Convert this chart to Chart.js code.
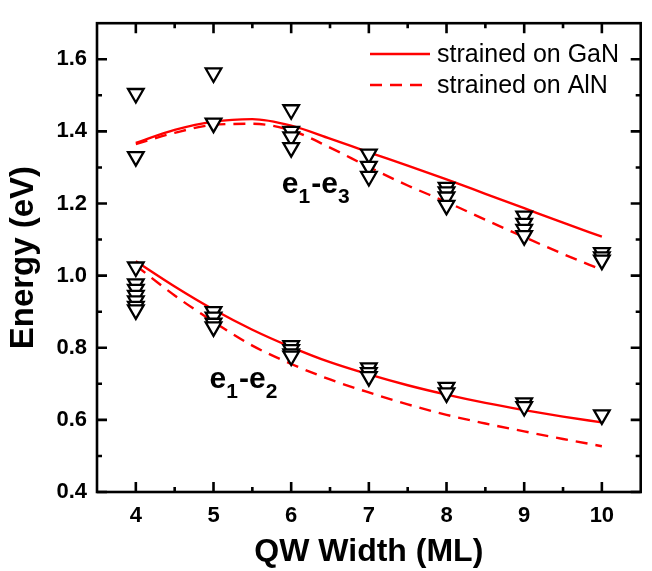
<!DOCTYPE html>
<html>
<head>
<meta charset="utf-8">
<script src="https://cdn.jsdelivr.net/npm/chart.js@4.4.0/dist/chart.umd.min.js"></script>
<style>
  html, body { margin: 0; padding: 0; background: #fff; }
</style>
</head>
<body>
<canvas id="chartEnergia" width="652" height="571"></canvas>
<script>
// Curvas calculadas (e1-e3 y e1-e2)
const anchosCurva = [4, 4.5, 5, 5.5, 6, 6.5, 7, 7.5, 8, 8.5, 9, 9.5, 10];
const e13GaN = [1.368, 1.404, 1.427, 1.434, 1.416, 1.380, 1.342, 1.305, 1.267, 1.227, 1.187, 1.147, 1.108];
const e13AlN = [1.365, 1.396, 1.418, 1.421, 1.403, 1.355, 1.301, 1.250, 1.204, 1.155, 1.107, 1.060, 1.016];
const e12GaN = [1.040, 0.970, 0.906, 0.850, 0.802, 0.760, 0.726, 0.696, 0.670, 0.647, 0.627, 0.609, 0.593];
const e12AlN = [1.028, 0.945, 0.872, 0.806, 0.755, 0.712, 0.676, 0.643, 0.614, 0.590, 0.568, 0.547, 0.527];

// Puntos medidos
const anchosE13 = [4, 4, 5, 5, 6, 6, 6, 6, 7, 7, 7, 8, 8, 8, 8, 9, 9, 9, 9, 10, 10, 10];
const energiasE13 = [1.505, 1.330, 1.562, 1.423, 1.460, 1.400, 1.385, 1.355, 1.337, 1.303, 1.275,
                     1.245, 1.232, 1.218, 1.195, 1.165, 1.145, 1.128, 1.111, 1.064, 1.052, 1.043];
const anchosE12 = [4, 4, 4, 4, 4, 4, 4, 5, 5, 5, 5, 6, 6, 6, 6, 7, 7, 7, 8, 8, 9, 9, 10];
const energiasE12 = [1.024, 0.977, 0.962, 0.945, 0.930, 0.915, 0.905, 0.900, 0.885, 0.868, 0.858,
                     0.806, 0.795, 0.783, 0.777, 0.744, 0.731, 0.720, 0.690, 0.675, 0.647, 0.637, 0.614];

const ticksX = [4, 5, 6, 7, 8, 9, 10];
const ticksY = [0.4, 0.6, 0.8, 1.0, 1.2, 1.4, 1.6];
const nombresSerie = ['strained on GaN', 'strained on AlN'];

const FUENTE = '"Liberation Sans", Arial, sans-serif';
const ROJO = '#ff0000';

const puntos = (xs, ys) => xs.map((x, i) => ({ x: x, y: ys[i] }));

function serieMedida(xs, ys) {
  return {
    type: 'scatter',
    data: puntos(xs, ys),
    pointStyle: 'triangle',
    rotation: 180,
    pointRadius: 9,
    pointHoverRadius: 9,
    borderWidth: 2.3,
    borderColor: '#000',
    backgroundColor: '#fff'
  };
}

function serieCurva(ys, dash) {
  return {
    type: 'line',
    data: puntos(anchosCurva, ys),
    borderColor: ROJO,
    borderWidth: 2.4,
    borderDash: dash,
    pointRadius: 0,
    fill: false,
    cubicInterpolationMode: 'monotone'
  };
}

// Marco, ticks hacia dentro, leyenda y etiquetas de las transiciones
const decoracion = {
  id: 'decoracion',
  afterDatasetsDraw(chart) {
    const { ctx, chartArea: a, scales: { x, y } } = chart;
    ctx.save();
    ctx.strokeStyle = '#000';
    ctx.lineWidth = 2.6;

    const marcaX = (v, largo) => {
      const px = x.getPixelForValue(v);
      ctx.beginPath();
      ctx.moveTo(px, a.bottom); ctx.lineTo(px, a.bottom - largo);
      ctx.moveTo(px, a.top); ctx.lineTo(px, a.top + largo);
      ctx.stroke();
    };
    const marcaY = (v, largo) => {
      const py = y.getPixelForValue(v);
      ctx.beginPath();
      ctx.moveTo(a.left, py); ctx.lineTo(a.left + largo, py);
      ctx.moveTo(a.right, py); ctx.lineTo(a.right - largo, py);
      ctx.stroke();
    };
    ticksX.forEach(v => marcaX(v, 10));
    ticksX.slice(1).forEach((v, i) => marcaX((v + ticksX[i]) / 2, 5));
    ticksY.forEach(v => marcaY(v, 10));
    ticksY.slice(1).forEach((v, i) => marcaY((v + ticksY[i]) / 2, 5));

    ctx.strokeRect(a.left, a.top, a.right - a.left, a.bottom - a.top);

    // Leyenda
    ctx.font = '25px ' + FUENTE;
    ctx.textBaseline = 'middle';
    ctx.fillStyle = '#000';
    nombresSerie.forEach((nombre, i) => {
      const fy = 54 + i * 31;
      ctx.strokeStyle = ROJO;
      ctx.lineWidth = 2.4;
      ctx.setLineDash(i === 0 ? [] : [12, 8]);
      ctx.beginPath();
      ctx.moveTo(370, fy); ctx.lineTo(430, fy);
      ctx.stroke();
      ctx.setLineDash([]);
      ctx.fillText(nombre, 437, fy + 1);
    });

    // e1-e3 / e1-e2
    const etiqueta = (vx, vy, sub2) => {
      let px = x.getPixelForValue(vx);
      const py = y.getPixelForValue(vy);
      ctx.textBaseline = 'alphabetic';
      const partes = [['e', 0], ['1', 1], ['-', 0], ['e', 0], [sub2, 1]];
      partes.forEach(([t, sub]) => {
        ctx.font = (sub ? 'bold 21px ' : 'bold 30px ') + FUENTE;
        ctx.fillText(t, px, py + (sub ? 10 : 0));
        px += ctx.measureText(t).width + (sub ? 1 : 0);
      });
    };
    etiqueta(5.88, 1.228, '3');
    etiqueta(4.95, 0.688, '2');
    ctx.restore();
  }
};

new Chart(document.getElementById('chartEnergia'), {
  data: {
    datasets: [
      serieMedida(anchosE13, energiasE13),
      serieMedida(anchosE12, energiasE12),
      serieCurva(e13GaN, []),
      serieCurva(e13AlN, [12, 8]),
      serieCurva(e12GaN, []),
      serieCurva(e12AlN, [12, 8])
    ]
  },
  options: {
    responsive: false,
    animation: false,
    devicePixelRatio: 1,
    layout: { padding: { top: 12, right: 1, left: 0, bottom: 0 } },
    plugins: { legend: { display: false }, tooltip: { enabled: false } },
    scales: {
      x: {
        type: 'linear',
        min: 3.5,
        max: 10.5,
        afterBuildTicks: s => { s.ticks = ticksX.map(v => ({ value: v })); },
        afterFit: s => { s.height = 79; },
        grid: { display: false, drawTicks: false },
        border: { display: false },
        ticks: {
          padding: 11,
          color: '#000',
          font: { family: FUENTE, size: 22, weight: 'bold' },
          callback: v => String(v)
        },
        title: {
          display: true,
          text: 'QW Width (ML)',
          color: '#000',
          padding: { top: 0, bottom: 0 },
          font: { family: FUENTE, size: 32, weight: 'bold' }
        }
      },
      y: {
        type: 'linear',
        min: 0.4,
        max: 1.7,
        afterBuildTicks: s => { s.ticks = ticksY.map(v => ({ value: v })); },
        afterFit: s => { s.width = 97; },
        grid: { display: false, drawTicks: false },
        border: { display: false },
        ticks: {
          padding: 10,
          color: '#000',
          font: { family: FUENTE, size: 22, weight: 'bold' },
          callback: v => v.toFixed(1)
        },
        title: {
          display: true,
          text: 'Energy (eV)',
          color: '#000',
          padding: { top: 4, bottom: 0 },
          font: { family: FUENTE, size: 33, weight: 'bold' }
        }
      }
    }
  },
  plugins: [decoracion]
});
</script>
</body>
</html>
